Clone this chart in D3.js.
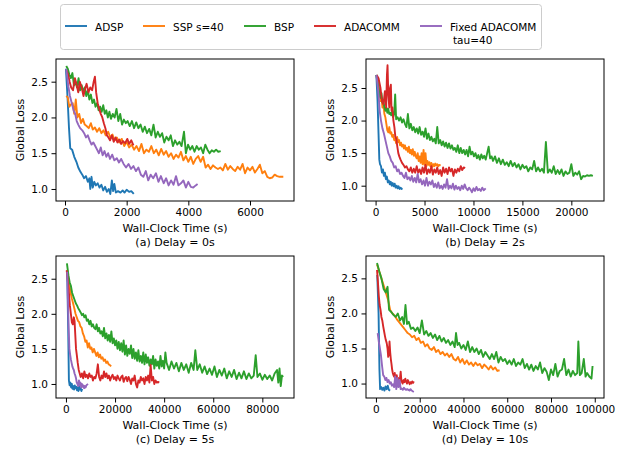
<!DOCTYPE html>
<html>
<head>
<meta charset="utf-8">
<script src="https://cdn.jsdelivr.net/npm/d3@7"></script>
<style>
body { margin: 0; background: #fff; }
text { font-family: "DejaVu Sans", sans-serif; fill: #000; }
</style>
</head>
<body>
<div id="chart"></div>
<script>
var WD = 626, HT = 450
var pw = 238, ph = 142

var names = ["ADSP", "SSP s=40", "BSP", "ADACOMM", "Fixed ADACOMM"]
var color = ["#1f77b4", "#ff7f0e", "#2ca02c", "#d62728", "#9467bd"]
var lossTicks = [1.0, 1.5, 2.0, 2.5]

// (a) delay 0s  -- [time (s), global loss]
var adspA = [[30,2.68],[80,2.3],[130,1.85],[170,1.57],[230,1.55],[300,1.45],[370,1.38],[430,1.3],[500,1.24],[560,1.2],[620,1.15],[680,1.18],[740,1.1],[790,1.15],[820,1.0],[860,1.17],[900,1.02],[950,1.1],[1000,1.05],[1060,1.08],[1120,1.02],[1180,1.06],[1240,0.98],[1300,1.03],[1360,0.96],[1420,1.0],[1470,0.93],[1520,1.12],[1560,0.97],[1600,1.07],[1650,0.95],[1720,0.97],[1800,0.95],[1870,0.98],[1930,0.95],[2000,0.99],[2080,0.96],[2150,0.97],[2230,0.93]]
var sspA = [[40,2.3],[90,2.28],[140,2.15],[190,2.18],[250,2.2],[300,2.05],[350,2.25],[400,2.0],[460,2.05],[520,1.92],[580,1.98],[640,1.9],[700,1.88],[770,1.85],[840,1.92],[900,1.83],[970,1.86],[1040,1.8],[1110,1.85],[1180,1.78],[1250,1.82],[1320,1.75],[1400,1.8],[1470,1.72],[1540,1.76],[1610,1.68],[1680,1.72],[1760,1.65],[1840,1.7],[1920,1.6],[2000,1.66],[2080,1.58],[2160,1.62],[2240,1.55],[2320,1.6],[2400,1.53],[2480,1.63],[2560,1.5],[2640,1.55],[2720,1.52],[2800,1.6],[2880,1.5],[2960,1.55],[3040,1.47],[3120,1.56],[3200,1.48],[3280,1.53],[3360,1.45],[3440,1.5],[3520,1.42],[3600,1.48],[3680,1.44],[3760,1.52],[3840,1.4],[3920,1.46],[4000,1.38],[4080,1.45],[4160,1.35],[4240,1.42],[4320,1.46],[4400,1.38],[4480,1.45],[4560,1.3],[4640,1.34],[4720,1.28],[4800,1.33],[4880,1.3],[4960,1.28],[5040,1.3],[5120,1.26],[5200,1.35],[5280,1.27],[5360,1.32],[5440,1.28],[5520,1.25],[5600,1.31],[5680,1.27],[5760,1.35],[5840,1.22],[5920,1.3],[6000,1.26],[6080,1.31],[6160,1.23],[6240,1.28],[6320,1.34],[6400,1.22],[6480,1.25],[6560,1.17],[6640,1.15],[6720,1.16],[6800,1.2],[6880,1.18],[6960,1.17],[7080,1.17]]
var bspA = [[40,2.72],[90,2.68],[140,2.6],[190,2.55],[240,2.62],[290,2.45],[340,2.5],[390,2.42],[440,2.55],[490,2.38],[540,2.45],[590,2.35],[640,2.42],[690,2.3],[740,2.38],[790,2.25],[840,2.32],[890,2.2],[940,2.25],[990,2.15],[1040,2.2],[1090,2.1],[1140,2.15],[1190,2.08],[1240,2.17],[1290,2.05],[1340,2.1],[1390,2.0],[1440,2.08],[1490,1.98],[1550,2.05],[1610,2.0],[1670,2.12],[1730,1.95],[1790,2.05],[1850,1.9],[1910,1.97],[1970,1.92],[2030,1.95],[2100,1.88],[2170,1.95],[2240,1.85],[2310,1.93],[2380,1.85],[2450,1.9],[2520,1.8],[2590,1.87],[2660,1.78],[2730,1.84],[2800,1.75],[2870,1.9],[2940,1.72],[3010,1.8],[3080,1.73],[3150,1.78],[3220,1.65],[3290,1.73],[3360,1.68],[3430,1.75],[3500,1.6],[3570,1.68],[3640,1.62],[3710,1.66],[3780,1.6],[3860,1.8],[3920,1.5],[3990,1.62],[4060,1.55],[4130,1.6],[4200,1.52],[4270,1.6],[4340,1.55],[4410,1.58],[4480,1.5],[4550,1.62],[4620,1.55],[4690,1.5],[4760,1.54],[4830,1.52],[4900,1.55],[4970,1.52],[5050,1.53]]
var adacommA = [[50,2.66],[100,2.6],[150,2.5],[200,2.42],[260,2.38],[320,2.55],[380,2.45],[430,2.35],[480,2.5],[540,2.42],[600,2.3],[650,2.4],[700,2.47],[760,2.35],[820,2.42],[880,2.38],[930,2.5],[970,2.57],[1010,2.35],[1060,2.2],[1110,2.12],[1160,2.05],[1210,2.0],[1260,1.92],[1310,1.85],[1360,1.75],[1410,1.72],[1460,1.68],[1520,1.75],[1580,1.66],[1640,1.72],[1700,1.65],[1760,1.69],[1820,1.63],[1880,1.67],[1950,1.64],[2020,1.7],[2080,1.63],[2150,1.68],[2220,1.61]]
var fixedA = [[40,2.68],[110,2.43],[160,2.3],[220,2.2],[280,2.1],[330,2.05],[380,1.95],[430,1.9],[490,1.85],[560,1.82],[620,1.78],[680,1.72],[740,1.75],[800,1.68],[860,1.62],[920,1.65],[980,1.6],[1040,1.55],[1100,1.5],[1160,1.58],[1220,1.47],[1280,1.53],[1340,1.45],[1400,1.5],[1460,1.42],[1530,1.48],[1600,1.4],[1680,1.43],[1750,1.37],[1820,1.42],[1900,1.35],[1980,1.3],[2060,1.35],[2140,1.28],[2220,1.32],[2300,1.25],[2380,1.3],[2460,1.2],[2540,1.17],[2620,1.25],[2700,1.12],[2780,1.2],[2860,1.15],[2950,1.22],[3030,1.1],[3110,1.18],[3200,1.08],[3280,1.15],[3360,1.05],[3440,1.12],[3520,1.06],[3600,1.18],[3680,1.05],[3760,1.08],[3840,1.12],[3920,1.02],[4000,1.1],[4080,1.03],[4160,1.02],[4240,1.05],[4300,1.07]]

// (b) delay 2s
var adspB = [[80,2.7],[200,2.3],[300,1.8],[380,1.4],[450,1.33],[550,1.3],[650,1.2],[750,1.25],[850,1.15],[950,1.2],[1050,1.1],[1150,1.14],[1250,1.05],[1350,1.08],[1450,1.02],[1550,1.06],[1650,1.0],[1750,1.04],[1850,0.99],[1950,1.03],[2050,0.97],[2150,1.0],[2250,0.96],[2350,0.99],[2450,0.95],[2550,0.97],[2650,0.95],[2750,0.96]]
var sspB = [[100,2.7],[250,2.6],[400,2.45],[500,2.3],[600,2.35],[700,2.2],[800,2.25],[900,2.1],[1000,2.05],[1100,1.95],[1200,1.85],[1300,1.82],[1400,1.9],[1500,1.8],[1600,1.82],[1700,1.75],[1800,1.78],[1900,1.7],[2000,1.72],[2100,1.65],[2200,1.75],[2300,1.67],[2400,1.7],[2500,1.62],[2600,1.66],[2700,1.6],[2800,1.63],[2900,1.57],[3000,1.62],[3100,1.55],[3200,1.58],[3300,1.52],[3400,1.6],[3500,1.5],[3600,1.55],[3700,1.48],[3800,1.56],[3900,1.46],[4000,1.52],[4100,1.45],[4200,1.42],[4300,1.5],[4400,1.38],[4500,1.45],[4600,1.35],[4700,1.5],[4800,1.33],[4900,1.55],[5000,1.32],[5100,1.5],[5200,1.3],[5300,1.38],[5400,1.32],[5500,1.36],[5600,1.3],[5700,1.35],[5800,1.29],[5900,1.33],[6000,1.3],[6100,1.34],[6200,1.31],[6300,1.33],[6400,1.3],[6500,1.32],[6650,1.31]]
var bspB = [[80,2.7],[250,2.55],[400,2.4],[500,2.35],[600,2.42],[700,2.28],[800,2.3],[900,2.2],[1000,2.15],[1100,2.2],[1200,2.12],[1300,2.18],[1400,2.1],[1500,2.12],[1600,2.08],[1700,2.15],[1800,2.05],[1900,2.1],[2000,2.4],[2100,2.02],[2250,2.05],[2400,2.0],[2550,2.05],[2700,1.97],[2850,2.02],[3000,1.95],[3150,1.9],[3300,2.1],[3450,1.88],[3600,1.95],[3750,1.85],[3900,1.9],[4050,1.82],[4200,1.88],[4350,1.8],[4500,1.9],[4650,1.78],[4800,1.83],[4950,1.75],[5100,1.88],[5250,1.72],[5400,1.8],[5550,1.7],[5700,1.75],[5850,1.68],[6000,1.72],[6150,1.65],[6300,1.9],[6450,1.65],[6600,1.7],[6750,1.62],[6900,1.68],[7050,1.6],[7200,1.66],[7350,1.58],[7500,1.65],[7650,1.57],[7800,1.62],[7950,1.55],[8100,1.58],[8250,1.52],[8400,1.62],[8550,1.5],[8700,1.58],[8850,1.5],[9000,1.55],[9150,1.48],[9300,1.55],[9450,1.45],[9600,1.6],[9750,1.48],[9900,1.52],[10050,1.45],[10200,1.5],[10350,1.42],[10500,1.47],[10650,1.4],[10800,1.48],[10950,1.42],[11100,1.46],[11250,1.4],[11400,1.5],[11550,1.6],[11700,1.42],[11850,1.45],[12000,1.38],[12200,1.45],[12400,1.35],[12600,1.42],[12800,1.33],[13000,1.4],[13200,1.32],[13400,1.36],[13600,1.3],[13800,1.38],[14000,1.3],[14200,1.35],[14400,1.28],[14600,1.33],[14800,1.25],[15000,1.32],[15200,1.27],[15400,1.3],[15600,1.22],[15800,1.28],[16000,1.25],[16200,1.38],[16400,1.22],[16600,1.28],[16800,1.22],[17000,1.26],[17200,1.2],[17400,1.67],[17600,1.2],[17800,1.25],[18000,1.2],[18200,1.3],[18400,1.18],[18600,1.24],[18800,1.18],[19000,1.25],[19200,1.15],[19400,1.22],[19600,1.18],[19800,1.2],[20000,1.33],[20200,1.15],[20400,1.2],[20600,1.17],[20800,1.22],[21000,1.1],[21200,1.15],[21400,1.14],[21600,1.16],[21800,1.15],[22000,1.16],[22200,1.15]]
var adacommB = [[100,2.7],[300,2.65],[500,2.5],[650,2.3],[800,2.25],[950,2.45],[1080,2.2],[1160,2.7],[1220,2.85],[1300,2.4],[1400,2.2],[1480,2.5],[1560,2.55],[1630,2.15],[1720,2.2],[1820,2.0],[1920,1.9],[2020,1.75],[2120,1.72],[2220,1.6],[2320,1.5],[2420,1.45],[2550,1.4],[2700,1.35],[2850,1.32],[3000,1.28],[3150,1.3],[3300,1.25],[3450,1.22],[3600,1.28],[3750,1.2],[3900,1.26],[4050,1.2],[4200,1.3],[4350,1.2],[4500,1.25],[4650,1.18],[4800,1.28],[4950,1.2],[5100,1.32],[5250,1.18],[5400,1.25],[5550,1.2],[5700,1.3],[5850,1.17],[6000,1.25],[6150,1.2],[6300,1.28],[6450,1.18],[6600,1.24],[6750,1.15],[6900,1.28],[7050,1.2],[7200,1.26],[7350,1.18],[7500,1.28],[7650,1.22],[7800,1.26],[7950,1.15],[8100,1.25],[8250,1.2],[8400,1.26],[8550,1.22],[8700,1.3],[8850,1.24],[9000,1.28],[9150,1.27]]
var fixedB = [[80,2.7],[200,2.55],[300,2.4],[420,2.15],[550,2.0],[700,1.88],[850,1.8],[1000,1.7],[1150,1.6],[1300,1.5],[1450,1.45],[1600,1.38],[1750,1.35],[1900,1.28],[2050,1.3],[2200,1.22],[2350,1.25],[2500,1.18],[2650,1.2],[2800,1.15],[2950,1.12],[3100,1.2],[3250,1.1],[3400,1.13],[3550,1.08],[3700,1.15],[3850,1.06],[4000,1.12],[4150,1.05],[4300,1.18],[4450,1.05],[4600,1.1],[4750,1.02],[4900,1.08],[5050,1.0],[5200,1.12],[5350,1.0],[5500,1.06],[5650,1.02],[5800,1.08],[5950,0.98],[6100,1.03],[6250,0.97],[6400,1.05],[6550,0.96],[6700,1.0],[6850,0.95],[7000,1.02],[7150,0.97],[7300,1.1],[7450,0.95],[7600,1.0],[7750,0.96],[7900,1.03],[8050,0.94],[8200,1.0],[8350,0.95],[8500,0.98],[8650,0.93],[8800,1.0],[8950,0.95],[9100,1.02],[9250,0.96],[9400,0.93],[9550,0.97],[9700,0.94],[9850,0.9],[10000,0.96],[10150,0.92],[10300,0.98],[10450,0.93],[10600,0.95],[10750,0.92],[10900,0.97],[11050,0.93],[11250,0.96]]

// (c) delay 5s
var adspC = [[500,2.62],[900,1.8],[1200,1.05],[1500,0.98],[1800,1.02],[2100,0.95],[2400,1.0],[2700,0.93],[3000,0.97],[3300,0.92],[3600,0.98],[3900,0.94],[4200,0.96],[4500,0.91],[4800,0.95],[5100,0.9],[5400,0.97],[5700,0.92],[6000,0.94],[6300,0.9],[6600,0.93]]
var sspC = [[400,2.62],[900,2.5],[1400,2.4],[1900,2.3],[2400,2.22],[2900,2.15],[3400,2.08],[3900,2.0],[4400,1.95],[4900,1.9],[5400,1.88],[5900,1.82],[6400,1.8],[6900,1.72],[7400,1.68],[7900,1.6],[8400,1.62],[8900,1.52],[9400,1.58],[9900,1.5],[10400,1.52],[10900,1.45],[11400,1.5],[11900,1.45],[12400,1.4],[12900,1.45],[13400,1.38],[13900,1.42],[14400,1.36],[14900,1.38],[15400,1.33],[15900,1.35],[16400,1.3],[16900,1.32],[17400,1.28],[17900,1.27],[18400,1.25]]
var bspC = [[400,2.72],[1000,2.55],[1500,2.45],[2000,2.4],[2500,2.3],[3000,2.25],[3500,2.2],[4000,2.15],[4500,2.12],[5000,2.08],[5500,2.05],[6000,2.02],[6500,1.98],[7000,2.0],[7500,1.95],[8000,1.98],[8500,1.9],[9000,1.92],[9500,1.85],[10000,1.9],[10500,1.82],[11000,1.85],[11500,1.8],[12000,1.78],[12500,1.85],[13000,1.75],[13500,1.8],[14000,1.72],[14500,1.75],[15000,1.68],[15500,1.8],[16000,1.65],[16500,1.72],[17000,1.62],[17500,1.7],[18000,1.6],[18500,1.75],[19000,1.58],[19500,1.65],[20000,1.55],[20500,1.62],[21000,1.5],[21500,1.6],[22000,1.48],[22500,1.58],[23000,1.46],[23500,1.62],[24000,1.42],[24500,1.55],[25000,1.4],[25500,1.5],[26000,1.43],[26500,1.55],[27000,1.37],[27500,1.5],[28000,1.36],[28500,1.45],[29000,1.33],[29500,1.48],[30000,1.32],[30500,1.4],[31000,1.3],[31500,1.45],[32000,1.28],[32500,1.42],[33000,1.3],[33500,1.38],[34000,1.26],[34500,1.35],[35000,1.28],[35500,1.4],[36000,1.22],[36500,1.35],[37000,1.26],[37500,1.32],[38000,1.22],[38500,1.4],[39000,1.25],[39500,1.33],[40000,1.22],[40500,1.45],[41000,1.3],[42000,1.2],[43000,1.32],[44000,1.22],[45000,1.3],[46000,1.18],[47000,1.3],[48000,1.2],[49000,1.28],[50000,1.16],[51000,1.3],[52000,1.2],[52700,1.48],[53500,1.2],[54500,1.28],[55500,1.16],[56500,1.25],[57500,1.14],[58500,1.22],[59500,1.13],[60500,1.25],[61500,1.1],[62500,1.2],[63500,1.12],[64500,1.22],[65500,1.08],[66500,1.18],[67500,1.1],[68500,1.2],[69500,1.07],[70500,1.16],[71500,1.08],[72500,1.18],[73500,1.07],[74500,1.15],[75500,1.08],[76500,1.12],[77300,1.41],[78000,1.1],[79000,1.15],[80000,1.06],[81000,1.13],[82000,1.07],[83000,1.12],[84000,1.05],[85000,1.15],[86000,1.2],[86500,1.02],[87000,1.22],[87500,0.97],[88000,1.12],[88500,1.1]]
var adacommC = [[300,2.62],[800,2.45],[1200,2.3],[1600,2.12],[2000,2.0],[2400,1.88],[2800,1.85],[3200,1.95],[3500,1.9],[3800,1.7],[4100,1.5],[4400,1.42],[4800,1.3],[5200,1.2],[5600,1.15],[6000,1.1],[6500,1.15],[7000,1.08],[7500,1.18],[8000,1.1],[8500,1.13],[9000,1.08],[9500,1.15],[10000,1.1],[10500,1.12],[11000,1.05],[11500,1.1],[12000,1.08],[12500,1.15],[13000,1.28],[13500,1.1],[14000,1.05],[14500,1.12],[15000,1.08],[15500,1.18],[16000,1.1],[16500,1.15],[17000,1.08],[17500,1.12],[18000,1.05],[18500,1.1],[19000,1.13],[19500,1.07],[20000,1.1],[20500,1.05],[21000,1.12],[21500,1.08],[22000,1.05],[22500,1.1],[23000,1.12],[23500,1.03],[24000,1.08],[24500,1.1],[25000,1.04],[25500,1.1],[26000,1.06],[26500,1.0],[27000,1.08],[27500,1.05],[28000,1.12],[28500,1.0],[29000,0.95],[29500,1.05],[30000,1.02],[30500,1.1],[31000,1.05],[31500,1.08],[32000,1.0],[32500,1.1],[33000,1.05],[33500,1.12],[34000,1.02],[34500,1.27],[35000,1.05],[35500,1.1],[36000,1.0],[36500,1.05],[37000,1.02],[37500,1.03],[38000,1.02]]
var fixedC = [[500,2.6],[800,2.2],[1100,1.8],[1400,1.5],[1700,1.42],[2000,1.35],[2300,1.3],[2600,1.25],[2900,1.22],[3200,1.2],[3500,1.15],[3800,1.12],[4100,1.08],[4400,1.02],[4700,1.0],[5000,0.97],[5300,1.05],[5600,0.98],[5900,1.02],[6200,0.95],[6500,1.0],[6800,0.96],[7100,0.98],[7400,0.94],[7700,0.97],[8000,0.95],[8300,0.98],[8600,0.99],[9000,1.0]]

// (d) delay 10s
var adspD = [[600,2.55],[1200,2.0],[1600,1.2],[1900,0.92],[2400,0.95],[2900,0.91],[3400,0.94],[3900,0.9],[4400,0.96],[4900,0.92],[5400,0.97],[5900,0.91],[6500,0.9]]
var sspD = [[500,2.7],[1500,2.6],[2500,2.5],[3500,2.4],[4500,2.3],[5500,2.2],[6500,2.05],[7500,2.0],[8500,1.97],[9500,1.92],[10500,1.88],[11500,1.84],[12500,1.8],[13500,1.76],[14500,1.72],[15500,1.7],[16500,1.66],[17500,1.68],[18500,1.62],[19500,1.65],[20500,1.58],[21500,1.6],[22500,1.53],[23500,1.56],[24500,1.5],[25500,1.48],[26500,1.52],[27500,1.45],[28500,1.48],[29500,1.42],[30500,1.45],[31500,1.4],[32500,1.43],[33500,1.38],[34500,1.42],[35500,1.35],[36500,1.33],[37500,1.38],[38500,1.3],[39500,1.35],[40500,1.28],[41500,1.33],[42500,1.27],[43500,1.3],[44500,1.25],[45500,1.3],[46500,1.26],[47500,1.28],[48500,1.22],[49500,1.27],[50500,1.24],[51500,1.2],[52500,1.25],[53500,1.2],[54500,1.23],[55500,1.18],[56500,1.19]]
var bspD = [[500,2.72],[1500,2.6],[2500,2.5],[3500,2.35],[4500,2.3],[5300,2.38],[6000,2.05],[7000,2.02],[8000,1.98],[9000,1.95],[10000,2.0],[11000,1.9],[12000,1.95],[12800,1.85],[13500,2.12],[14200,1.85],[15000,1.88],[16000,1.78],[17000,1.8],[18000,1.75],[19000,1.8],[20000,1.72],[21000,1.9],[22000,1.7],[23000,1.75],[24000,1.68],[25000,1.72],[26000,1.65],[27000,1.7],[28000,1.62],[29000,1.68],[30000,1.6],[31000,1.65],[32000,1.58],[33000,1.62],[34000,1.55],[35000,1.6],[36000,1.52],[36600,1.72],[37300,1.55],[38000,1.58],[39000,1.5],[40000,1.55],[41000,1.48],[42000,1.6],[43000,1.45],[44000,1.52],[45000,1.45],[46000,1.5],[47000,1.42],[48000,1.48],[49000,1.38],[50000,1.45],[51000,1.4],[52000,1.35],[53000,1.42],[54000,1.35],[55000,1.45],[56000,1.3],[57000,1.38],[58000,1.32],[59000,1.35],[60000,1.28],[61000,1.33],[62000,1.27],[63000,1.35],[64000,1.25],[65000,1.3],[66000,1.27],[67000,1.35],[68000,1.22],[69000,1.28],[70000,1.2],[71000,1.27],[72000,1.18],[73000,1.25],[74000,1.2],[75000,1.3],[76000,1.15],[77000,1.22],[78000,1.17],[79000,1.05],[80000,1.2],[81000,1.12],[82000,1.28],[83000,1.1],[84000,1.18],[85000,1.2],[86000,1.35],[87000,1.12],[88000,1.2],[89000,1.1],[90000,1.18],[91000,1.12],[92000,1.15],[92500,1.6],[93200,1.12],[94000,1.15],[95000,1.35],[95800,1.1],[96500,1.15],[97500,1.1],[98500,1.07],[99000,1.25]]
var adacommD = [[500,2.62],[900,2.45],[1300,2.25],[1700,2.12],[2100,2.05],[2500,1.95],[2900,1.9],[3300,1.82],[3700,1.75],[4100,1.68],[4500,1.62],[4900,1.58],[5300,1.5],[5600,1.38],[5900,1.42],[6200,1.6],[6500,1.45],[6800,1.35],[7100,1.28],[7400,1.2],[7700,1.15],[8000,1.12],[8300,1.1],[8600,1.15],[8900,1.05],[9200,1.08],[9500,1.12],[9800,1.05],[10100,1.08],[10400,1.02],[10700,1.0],[11000,1.08],[11300,1.17],[11600,1.05],[11900,1.02],[12200,1.0],[12600,1.05],[13000,1.02],[13400,1.07],[13800,1.03],[14200,1.0],[14600,1.05],[15000,1.02],[15400,0.99],[15800,1.02],[16200,1.0],[16600,1.03],[17000,1.01],[17300,1.03]]
var fixedD = [[800,1.72],[1300,1.6],[1800,1.5],[2300,1.4],[2800,1.25],[3300,1.12],[3800,1.1],[4300,1.05],[4800,1.08],[5300,1.02],[5800,1.05],[6300,1.0],[6800,1.02],[7300,0.97],[7800,0.99],[8300,0.95],[8800,1.1],[9300,0.92],[9800,1.08],[10300,0.95],[10800,1.05],[11300,0.92],[11800,0.93],[12300,0.91],[12800,0.94],[13300,0.92],[13800,0.91],[14300,0.92],[14800,0.91],[15300,0.9],[15800,0.92],[16300,0.9],[16800,0.89],[17300,0.88]]

var panels = [
  { left: 56,  top: 59,  xdom: [-292, 7427],   ydom: [0.832, 2.817], xticks: [0, 2000, 4000, 6000],
    lines: [adspA, sspA, bspA, adacommA, fixedA], caption: "(a) Delay = 0s" },
  { left: 366, top: 59,  xdom: [-980, 23337],  ydom: [0.765, 2.945], xticks: [0, 5000, 10000, 15000, 20000],
    lines: [adspB, sspB, bspB, adacommB, fixedB], caption: "(b) Delay = 2s" },
  { left: 56,  top: 256, xdom: [-4057, 92900], ydom: [0.80, 2.824],  xticks: [0, 20000, 40000, 60000, 80000],
    lines: [adspC, sspC, bspC, adacommC, fixedC], caption: "(c) Delay = 5s" },
  { left: 366, top: 256, xdom: [-4545, 104227], ydom: [0.794, 2.819], xticks: [0, 20000, 40000, 60000, 80000, 100000],
    lines: [adspD, sspD, bspD, adacommD, fixedD], caption: "(d) Delay = 10s" }
]

var svg = d3.select("#chart")
            .append("svg")
                .attr("width", WD)
                .attr("height", HT)

panels.forEach(function(p) {
    var g = svg.append("g").attr("transform", "translate(" + p.left + "," + p.top + ")")
    var x = d3.scaleLinear().domain(p.xdom).range([0, pw])
    var y = d3.scaleLinear().domain(p.ydom).range([ph, 0])

    var line = d3.line()
        .x(function(d) { return x(d[0]) })
        .y(function(d) { return y(d[1]) })

    p.lines.forEach(function(data, i) {
        g.append("path")
            .datum(data)
            .attr("d", line)
            .attr("fill", "none")
            .attr("stroke", color[i])
            .attr("stroke-width", 1.9)
            .attr("stroke-linejoin", "round")
    })

    var xAxis = g.append("g")
        .attr("transform", "translate(0," + ph + ")")
        .call(d3.axisBottom(x).tickValues(p.xticks).tickFormat(d3.format("d")).tickSize(4.5).tickPadding(3.5))
    var yAxis = g.append("g")
        .call(d3.axisLeft(y).tickValues(lossTicks).tickFormat(d3.format(".1f")).tickSize(4.5).tickPadding(3.5))
    ;[xAxis, yAxis].forEach(function(a) {
        a.select(".domain").remove()
        a.selectAll("line").attr("stroke", "#000").attr("stroke-width", 1)
        a.selectAll("text").style("font-size", "10.5px").style("font-family", "DejaVu Sans")
    })

    g.append("rect")
        .attr("width", pw).attr("height", ph)
        .attr("fill", "none").attr("stroke", "#000").attr("stroke-width", 1)

    g.append("text")
        .attr("x", pw / 2).attr("y", ph + 31)
        .attr("text-anchor", "middle")
        .style("font-size", "11px")
        .text("Wall-Clock Time (s)")
    g.append("text")
        .attr("x", pw / 2).attr("y", ph + 45)
        .attr("text-anchor", "middle")
        .style("font-size", "11px")
        .text(p.caption)
    g.append("text")
        .attr("transform", "translate(-36," + ph / 2 + ") rotate(-90)")
        .attr("text-anchor", "middle")
        .attr("dy", "0.35em")
        .style("font-size", "11px")
        .text("Global Loss")
})

// legend
var legend = svg.append("g")
legend.append("rect")
    .attr("x", 60.5).attr("y", 4.5).attr("width", 481).attr("height", 45)
    .attr("rx", 3)
    .attr("fill", "#fff").attr("stroke", "#cccccc").attr("stroke-width", 1)

var legendX = [65, 143, 244, 314, 420]
names.forEach(function(n, i) {
    legend.append("line")
        .attr("x1", legendX[i]).attr("x2", legendX[i] + 22)
        .attr("y1", 26).attr("y2", 26)
        .attr("stroke", color[i]).attr("stroke-width", 1.9)
    legend.append("text")
        .attr("x", legendX[i] + 30).attr("y", 31)
        .style("font-size", "10.5px")
        .text(n)
})
legend.append("text")
    .attr("x", legendX[4] + 33).attr("y", 43.5)
    .style("font-size", "10.5px")
    .text("tau=40")
</script>
</body>
</html>
